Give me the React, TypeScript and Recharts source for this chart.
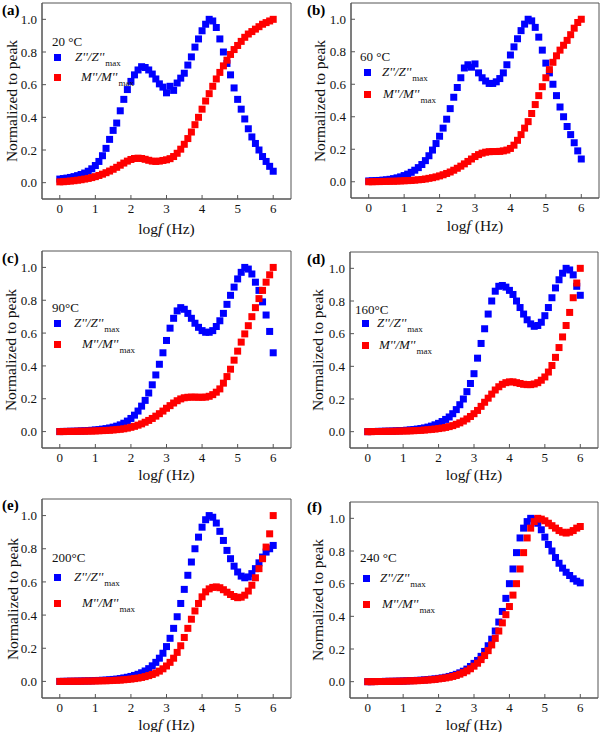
import React from "react";
import { ScatterChart, Scatter, XAxis, YAxis, ReferenceArea } from "recharts";

// log f (Hz), shared by every panel
const LOG_F = [
  0, 0.1, 0.2, 0.3, 0.4, 0.5, 0.6, 0.7, 0.8, 0.9, 1.0,
  1.1, 1.2, 1.3, 1.4, 1.5, 1.6, 1.7, 1.8, 1.9, 2.0,
  2.1, 2.2, 2.3, 2.4, 2.5, 2.6, 2.7, 2.8, 2.9, 3.0,
  3.1, 3.2, 3.3, 3.4, 3.5, 3.6, 3.7, 3.8, 3.9, 4.0,
  4.1, 4.2, 4.3, 4.4, 4.5, 4.6, 4.7, 4.8, 4.9, 5.0,
  5.1, 5.2, 5.3, 5.4, 5.5, 5.6, 5.7, 5.8, 5.9, 6.0,
];

// (a) 20 °C
const Z_20 = [
  0.022, 0.025, 0.028, 0.032, 0.037, 0.043, 0.05, 0.059, 0.07, 0.085, 0.105,
  0.13, 0.165, 0.21, 0.265, 0.32, 0.365, 0.44, 0.51, 0.57, 0.62,
  0.66, 0.69, 0.71, 0.705, 0.69, 0.665, 0.635, 0.605, 0.585, 0.55,
  0.59, 0.565, 0.61, 0.64, 0.67, 0.72, 0.77, 0.83, 0.88, 0.93,
  0.97, 1.0, 0.99, 0.95, 0.88, 0.8, 0.73, 0.66, 0.58, 0.51,
  0.45, 0.39, 0.33, 0.28, 0.24, 0.2, 0.16, 0.13, 0.1, 0.07,
];
const M_20 = [
  0.005, 0.006, 0.008, 0.01, 0.012, 0.015, 0.018, 0.022, 0.026, 0.031, 0.037,
  0.044, 0.052, 0.061, 0.071, 0.082, 0.094, 0.107, 0.12, 0.132, 0.142,
  0.148, 0.15, 0.148, 0.143, 0.137, 0.132, 0.13, 0.132, 0.136, 0.14,
  0.147, 0.16, 0.18, 0.205, 0.235, 0.27, 0.31, 0.355, 0.4, 0.45,
  0.5, 0.545, 0.59, 0.635, 0.675, 0.715, 0.75, 0.785, 0.815, 0.84,
  0.865, 0.89, 0.91, 0.925, 0.94, 0.955, 0.97, 0.98, 0.99, 1.0,
];

// (b) 60 °C
const Z_60 = [
  0.005, 0.006, 0.007, 0.008, 0.01, 0.012, 0.015, 0.019, 0.024, 0.03, 0.038,
  0.047, 0.058, 0.071, 0.087, 0.106, 0.13, 0.16, 0.195, 0.235, 0.28,
  0.33, 0.385, 0.45, 0.52, 0.58, 0.64, 0.7, 0.72, 0.705, 0.725,
  0.67, 0.64, 0.62, 0.605, 0.605, 0.615, 0.635, 0.67, 0.72, 0.78,
  0.83, 0.88, 0.93, 0.97, 1.0, 0.99, 0.95, 0.89, 0.81, 0.73,
  0.67, 0.6, 0.53, 0.46, 0.4, 0.34, 0.29, 0.24, 0.19, 0.14,
];
const M_60 = [
  0.0, 0.0, 0.001, 0.001, 0.002, 0.002, 0.003, 0.003, 0.004, 0.005, 0.006,
  0.007, 0.008, 0.01, 0.012, 0.014, 0.017, 0.021, 0.025, 0.03, 0.036,
  0.043, 0.051, 0.06, 0.071, 0.083, 0.096, 0.11, 0.125, 0.14, 0.155,
  0.167, 0.176, 0.182, 0.185, 0.186, 0.186, 0.187, 0.19, 0.195, 0.205,
  0.225, 0.255, 0.29, 0.33, 0.37, 0.42, 0.475, 0.53, 0.585, 0.64,
  0.69, 0.735, 0.775, 0.81, 0.84, 0.87, 0.905, 0.945, 0.98, 1.0,
];

// (c) 90 °C
const Z_90 = [
  0.0, 0.001, 0.001, 0.002, 0.002, 0.003, 0.004, 0.005, 0.006, 0.008, 0.01,
  0.012, 0.015, 0.018, 0.022, 0.027, 0.033, 0.041, 0.051, 0.064, 0.08,
  0.1, 0.125, 0.155, 0.19, 0.235, 0.285, 0.345, 0.41, 0.48, 0.555,
  0.63, 0.69, 0.735, 0.755, 0.745, 0.72, 0.69, 0.66, 0.635, 0.615,
  0.605, 0.605, 0.615, 0.64, 0.675, 0.72, 0.775, 0.83, 0.88, 0.93,
  0.97, 1.0, 0.99, 0.96, 0.91, 0.86, 0.79, 0.71, 0.61, 0.48,
];
const M_90 = [
  0.0, 0.0, 0.001, 0.001, 0.001, 0.002, 0.002, 0.002, 0.003, 0.003, 0.004,
  0.005, 0.006, 0.007, 0.008, 0.01, 0.012, 0.014, 0.017, 0.021, 0.026,
  0.032, 0.039, 0.047, 0.057, 0.068, 0.08, 0.094, 0.109, 0.125, 0.142,
  0.158, 0.174, 0.188, 0.199, 0.206, 0.209, 0.21, 0.21, 0.209, 0.209,
  0.21, 0.215, 0.225, 0.24, 0.26, 0.295, 0.335, 0.38, 0.435, 0.49,
  0.545, 0.595, 0.645, 0.7, 0.755, 0.81, 0.86, 0.91, 0.955, 1.0,
];

// (d) 160 °C
const Z_160 = [
  0.0, 0.001, 0.001, 0.002, 0.002, 0.003, 0.003, 0.004, 0.005, 0.006, 0.007,
  0.009, 0.011, 0.013, 0.016, 0.019, 0.023, 0.028, 0.034, 0.042, 0.051,
  0.062, 0.075, 0.09, 0.11, 0.135, 0.165, 0.2, 0.245, 0.295, 0.355,
  0.45, 0.54, 0.63, 0.72, 0.8, 0.86, 0.89, 0.895, 0.885, 0.865,
  0.84, 0.8, 0.76, 0.72, 0.685, 0.66, 0.645, 0.65, 0.67, 0.71,
  0.76, 0.82, 0.88, 0.93, 0.97, 1.0, 0.99, 0.96, 0.89, 0.835,
];
const M_160 = [
  0.0, 0.0, 0.001, 0.001, 0.001, 0.002, 0.002, 0.002, 0.003, 0.003, 0.004,
  0.004, 0.005, 0.006, 0.007, 0.008, 0.01, 0.012, 0.014, 0.016, 0.019,
  0.022, 0.026, 0.031, 0.037, 0.045, 0.054, 0.065, 0.078, 0.093, 0.11,
  0.13, 0.155, 0.18, 0.205, 0.23, 0.255, 0.275, 0.29, 0.3, 0.305,
  0.305, 0.3, 0.295, 0.29, 0.288, 0.288, 0.292, 0.3, 0.315, 0.335,
  0.365, 0.405, 0.455, 0.515, 0.58, 0.65, 0.73, 0.82, 0.91, 1.0,
];

// (e) 200 °C
const Z_200 = [
  0.0, 0.0, 0.001, 0.001, 0.001, 0.002, 0.002, 0.003, 0.003, 0.004, 0.005,
  0.006, 0.007, 0.008, 0.01, 0.012, 0.014, 0.017, 0.021, 0.025, 0.03,
  0.036, 0.043, 0.052, 0.063, 0.077, 0.094, 0.115, 0.14, 0.17, 0.21,
  0.26, 0.32, 0.39, 0.47, 0.555, 0.64, 0.72, 0.8, 0.87, 0.93,
  0.975, 1.0, 0.99, 0.955, 0.905, 0.85, 0.79, 0.74, 0.695, 0.66,
  0.635, 0.625, 0.63, 0.65, 0.68, 0.715, 0.75, 0.78, 0.8, 0.82,
];
const M_200 = [
  0.0, 0.0, 0.0, 0.001, 0.001, 0.001, 0.001, 0.002, 0.002, 0.002, 0.003,
  0.003, 0.004, 0.004, 0.005, 0.006, 0.007, 0.008, 0.01, 0.012, 0.014,
  0.017, 0.02, 0.024, 0.029, 0.035, 0.042, 0.051, 0.062, 0.076, 0.093,
  0.115, 0.14, 0.175, 0.215, 0.265, 0.32, 0.375, 0.425, 0.47, 0.51,
  0.54, 0.558, 0.567, 0.57, 0.565, 0.553, 0.538, 0.524, 0.512, 0.505,
  0.508, 0.52, 0.545, 0.58, 0.625, 0.68, 0.74, 0.81, 0.89, 1.0,
];

// (f) 240 °C
const Z_240 = [
  0.0, 0.0, 0.001, 0.001, 0.001, 0.002, 0.002, 0.002, 0.003, 0.003, 0.004,
  0.005, 0.006, 0.007, 0.008, 0.009, 0.011, 0.013, 0.015, 0.017, 0.02,
  0.023, 0.027, 0.032, 0.038, 0.045, 0.054, 0.064, 0.077, 0.093, 0.112,
  0.13, 0.155, 0.185, 0.22, 0.26, 0.31, 0.365, 0.43, 0.51, 0.6,
  0.69, 0.79, 0.88, 0.94, 0.98, 1.0, 0.995, 0.97, 0.93, 0.885,
  0.84, 0.8, 0.76, 0.725, 0.695, 0.67, 0.65, 0.63, 0.615, 0.605,
];
const M_240 = [
  0.0, 0.0, 0.0, 0.001, 0.001, 0.001, 0.002, 0.002, 0.002, 0.003, 0.003,
  0.004, 0.005, 0.005, 0.006, 0.007, 0.009, 0.01, 0.012, 0.014, 0.017,
  0.02, 0.023, 0.027, 0.032, 0.038, 0.046, 0.055, 0.066, 0.079, 0.095,
  0.113, 0.135, 0.16, 0.19, 0.225, 0.265, 0.31, 0.36, 0.41, 0.46,
  0.53, 0.6, 0.69, 0.79, 0.88, 0.94, 0.98, 1.0, 0.995, 0.985,
  0.97, 0.955, 0.94, 0.925, 0.915, 0.91, 0.915, 0.925, 0.94, 0.95,
];

const X_TICKS = [0, 1, 2, 3, 4, 5, 6];
const Y_TICKS = [0, 0.2, 0.4, 0.6, 0.8, 1.0];

const FONT = '"Liberation Serif", "Times New Roman", serif';
const BLUE = "#0000ff";
const RED = "#ff0000";
const FRAME = "#555";
const MARK = 7;

// layout per panel, coordinates relative to the panel's own box
const PANELS = [
  { tag: "(a)", temp: "20 °C", z: Z_20, m: M_20, x: 0, y: 0, h: 240,
    plot: { l: 42, r: 291, t: 3, b: 199 }, tagY: 10, titleX: 11, xTitleY: 228,
    leg: { tx: 52, ty: 42, sx: 57, zy: 57, my: 77, zx: 75, mx: 81 } },
  { tag: "(b)", temp: "60 °C", z: Z_60, m: M_60, x: 300, y: 0, h: 240,
    plot: { l: 51, r: 299, t: 3, b: 198 }, tagY: 10, titleX: 19, xTitleY: 225,
    leg: { tx: 60, ty: 57, sx: 67, zy: 72, my: 94, zx: 82, mx: 83 } },
  { tag: "(c)", temp: "90°C", z: Z_90, m: M_90, x: 0, y: 240, h: 240,
    plot: { l: 42, r: 291, t: 11, b: 208 }, tagY: 18, titleX: 10, xTitleY: 234,
    leg: { tx: 52, ty: 68, sx: 57, zy: 83, my: 104, zx: 74, mx: 82 } },
  { tag: "(d)", temp: "160°C", z: Z_160, m: M_160, x: 300, y: 240, h: 240,
    plot: { l: 50, r: 298, t: 12, b: 208 }, tagY: 19, titleX: 17, xTitleY: 234,
    leg: { tx: 55, ty: 70, sx: 65, zy: 83, my: 105, zx: 77, mx: 79 } },
  { tag: "(e)", temp: "200°C", z: Z_200, m: M_200, x: 0, y: 480, h: 252,
    plot: { l: 42, r: 291, t: 19, b: 218 }, tagY: 25, titleX: 12, xTitleY: 244,
    leg: { tx: 52, ty: 78, sx: 57, zy: 97, my: 123, zx: 74, mx: 82 } },
  { tag: "(f)", temp: "240 °C", z: Z_240, m: M_240, x: 300, y: 480, h: 252,
    plot: { l: 50, r: 298, t: 22, b: 218 }, tagY: 27, titleX: 17, xTitleY: 244,
    leg: { tx: 60, ty: 78, sx: 66, zy: 98, my: 124, zx: 80, mx: 82 } },
];

const X_AXIS_H = 22;

const squareShape = (color: string) => (props: any) => (
  <rect
    x={props.cx - MARK / 2}
    y={props.cy - MARK / 2}
    width={MARK}
    height={MARK}
    fill={color}
  />
);

function SeriesLabel({ name, left, cy }: { name: string; left: number; cy: number }) {
  return (
    <div
      style={{
        position: "absolute",
        left,
        top: cy - 8,
        lineHeight: "16px",
        fontSize: 13,
        fontFamily: FONT,
        whiteSpace: "nowrap",
        color: "#111",
      }}
    >
      <span style={{ fontStyle: "italic" }}>{name}</span>
      <span style={{ fontSize: 9, position: "relative", top: 5, marginLeft: 1 }}>max</span>
    </div>
  );
}

function Panel({ p }: { p: (typeof PANELS)[number] }) {
  const zPts = LOG_F.map((f, i) => ({ x: f, y: p.z[i] }));
  const mPts = LOG_F.map((f, i) => ({ x: f, y: p.m[i] }));
  const { l, r, t, b } = p.plot;
  const sq = (cx: number, cy: number, color: string) => (
    <div
      style={{
        position: "absolute",
        left: cx - MARK / 2,
        top: cy - MARK / 2,
        width: MARK,
        height: MARK,
        background: color,
      }}
    />
  );
  return (
    <div style={{ position: "absolute", left: p.x, top: p.y, width: 300, height: p.h }}>
      <ScatterChart
        width={300}
        height={p.h}
        margin={{ top: t, right: 300 - r, left: 0, bottom: p.h - b - X_AXIS_H }}
      >
        <XAxis
          type="number"
          dataKey="x"
          domain={[-0.5, 6.5]}
          ticks={X_TICKS}
          height={X_AXIS_H}
          allowDataOverflow
          stroke={FRAME}
          tickSize={-4}
          tickMargin={9}
          tick={{ fill: "#111", fontSize: 13, fontFamily: FONT }}
        />
        <YAxis
          type="number"
          dataKey="y"
          domain={[-0.1, 1.1]}
          ticks={Y_TICKS}
          width={l}
          allowDataOverflow
          stroke={FRAME}
          tickSize={-4}
          tickMargin={9}
          tickFormatter={(v: number) => v.toFixed(1)}
          tick={{ fill: "#111", fontSize: 13, fontFamily: FONT }}
        />
        <ReferenceArea x1={-0.5} x2={6.5} y1={-0.1} y2={1.1} fill="none" stroke={FRAME} strokeWidth={1} />
        <Scatter data={zPts} shape={squareShape(BLUE)} isAnimationActive={false} />
        <Scatter data={mPts} shape={squareShape(RED)} isAnimationActive={false} />
      </ScatterChart>

      <div
        style={{
          position: "absolute",
          left: p.x === 0 ? 2 : 7,
          top: p.tagY - 9,
          fontFamily: FONT,
          fontWeight: "bold",
          fontSize: 15,
          lineHeight: "18px",
        }}
      >
        {p.tag}
      </div>

      <div
        style={{
          position: "absolute",
          left: p.titleX,
          top: (t + b) / 2,
          transform: "translate(-50%, -50%) rotate(-90deg)",
          fontFamily: FONT,
          fontSize: 15.5,
          lineHeight: "15px",
          whiteSpace: "nowrap",
          color: "#111",
        }}
      >
        Normalized to peak
      </div>

      <div
        style={{
          position: "absolute",
          left: (l + r) / 2,
          top: p.xTitleY,
          transform: "translate(-50%, -50%)",
          fontFamily: FONT,
          fontSize: 15.5,
          lineHeight: "15px",
          whiteSpace: "nowrap",
          color: "#111",
        }}
      >
        log<span style={{ fontStyle: "italic" }}>f</span> (Hz)
      </div>

      <div
        style={{
          position: "absolute",
          left: p.leg.tx,
          top: p.leg.ty - 8,
          lineHeight: "16px",
          fontFamily: FONT,
          fontSize: 13,
          whiteSpace: "nowrap",
          color: "#111",
        }}
      >
        {p.temp}
      </div>
      {sq(p.leg.sx, p.leg.zy, BLUE)}
      {sq(p.leg.sx, p.leg.my, RED)}
      <SeriesLabel name="Z''/Z''" left={p.leg.zx} cy={p.leg.zy} />
      <SeriesLabel name="M''/M''" left={p.leg.mx} cy={p.leg.my} />
    </div>
  );
}

export default function App() {
  return (
    <div style={{ position: "absolute", left: 0, top: 0, width: 600, height: 732, background: "#fff" }}>
      {PANELS.map((p) => (
        <Panel key={p.tag} p={p} />
      ))}
    </div>
  );
}
